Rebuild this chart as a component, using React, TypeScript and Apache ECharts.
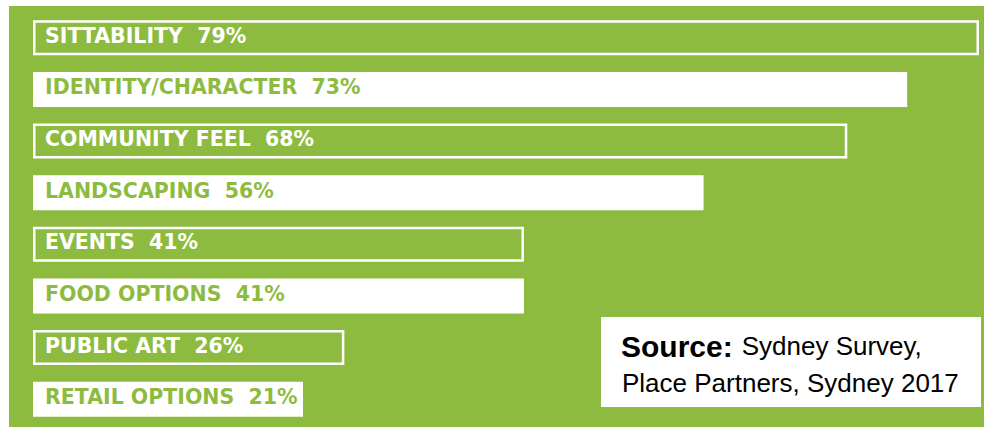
import React, { useEffect, useRef } from "react";
import * as echarts from "echarts";

const categories = [
  "SITTABILITY",
  "IDENTITY/CHARACTER",
  "COMMUNITY FEEL",
  "LANDSCAPING",
  "EVENTS",
  "FOOD OPTIONS",
  "PUBLIC ART",
  "RETAIL OPTIONS",
];
const values = [79, 73, 68, 56, 41, 41, 26, 21];
const sourceBold = "Source:";
const sourceLine1 = "Sydney Survey,";
const sourceLine2 = "Place Partners, Sydney 2017";

const GREEN = "#8dbb3f";

export default function App() {
  const ref = useRef<HTMLDivElement>(null);
  useEffect(() => {
    if (!ref.current) return;
    const chart = echarts.init(ref.current, null, { renderer: "svg" });
    const data = values.map((v, i) => {
      const outlined = i % 2 === 0;
      return {
        value: v,
        itemStyle: outlined
          ? { color: GREEN, borderColor: "#ffffff", borderWidth: 2.5 }
          : { color: "#ffffff", borderWidth: 0 },
        label: { color: outlined ? "#ffffff" : GREEN },
      };
    });
    chart.setOption({
      animation: false,
      backgroundColor: "#ffffff",
      graphic: [
        {
          type: "rect",
          z: -10,
          silent: true,
          shape: { x: 9, y: 6, width: 975, height: 421 },
          style: { fill: GREEN },
        },
        {
          type: "rect",
          z: 10,
          shape: { x: 601, y: 317, width: 380, height: 90 },
          style: { fill: "#ffffff" },
        },
        {
          type: "text",
          z: 11,
          x: 621,
          y: 346,
          style: {
            text: `{b|${sourceBold}}{r|${sourceLine1}}`,
            verticalAlign: "middle",
            rich: {
              b: {
                fontFamily: "Liberation Sans, Arial",
                fontWeight: "bold",
                fontSize: 30,
                fill: "#000",
                padding: [0, 9, 0, 0],
              },
              r: { fontFamily: "Liberation Sans, Arial", fontSize: 26, fill: "#000" },
            },
          },
        },
        {
          type: "text",
          z: 11,
          x: 622,
          y: 383,
          style: {
            text: sourceLine2,
            fontFamily: "Liberation Sans, Arial",
            fontSize: 26,
            fill: "#000",
            verticalAlign: "middle",
          },
        },
      ],
      grid: { left: 33, right: 5, top: 12, height: 413, containLabel: false },
      xAxis: { type: "value", min: 0, max: 79, show: false },
      yAxis: { type: "category", data: categories, inverse: true, show: false },
      series: [
        {
          type: "bar",
          data,
          barWidth: 35,
          barMinHeight: 270,
          label: {
            show: true,
            position: "insideLeft",
            distance: 12,
            offset: [0, -2],
            fontFamily: "DejaVu Sans",
            fontWeight: "bold",
            fontSize: 20.5,
            formatter: (p: any) => `${p.name}  ${p.value}%`,
          },
        },
      ],
    });
    return () => chart.dispose();
  }, []);
  return (
    <div
      ref={ref}
      style={{ position: "fixed", left: 0, top: 0, width: 984, height: 427 }}
    />
  );
}
